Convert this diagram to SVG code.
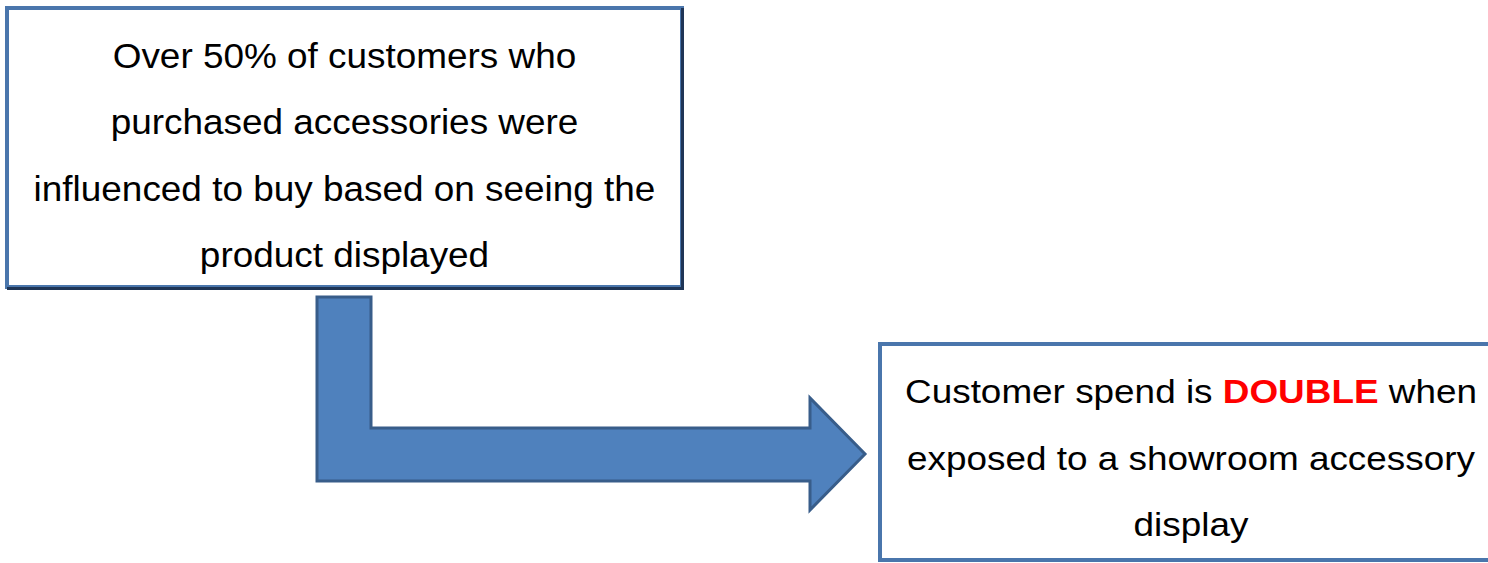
<svg xmlns="http://www.w3.org/2000/svg" width="1488" height="563" viewBox="0 0 1488 563">
<style>
.box{fill:#ffffff;stroke:#4a76ac;stroke-width:4}
.shadow{fill:none;stroke:#1f3556;stroke-width:3}
.t{font-family:"Liberation Sans",Arial,sans-serif;fill:#000000;text-anchor:middle}
.red{fill:#ff0000;font-weight:bold}
.arrow{fill:#4f81bd;stroke:#385d8a;stroke-width:3;stroke-linejoin:miter}
</style>
<rect width="1488" height="563" fill="#ffffff"/>
<g id="connectors">
<polygon class="arrow" points="317,297 371,297 371,428 810,428 810,398 865,454 810,510 810,481 317,481"/>
</g>
<g id="node-1">
<rect class="box" x="7" y="8" width="675" height="279"/>
<polyline class="shadow" points="682.5,8 682.5,288.5 7,288.5"/>
<g class="t" font-size="35.5" transform="translate(344.5,0) scale(1.04,1) translate(-344.5,0)">
<text x="344.5" y="68">Over 50% of customers who</text>
<text x="344.5" y="134.5">purchased accessories were</text>
<text x="344.5" y="201">influenced to buy based on seeing the</text>
<text x="344.5" y="267.5">product displayed</text>
</g>
</g>
<g id="node-2">
<rect class="box" x="880" y="344" width="620" height="216"/>
<g class="t" font-size="34" transform="translate(1191,0) scale(1.085,1) translate(-1191,0)">
<text x="1191" y="403">Customer spend is <tspan class="red">DOUBLE</tspan> when</text>
<text x="1191" y="470">exposed to a showroom accessory</text>
<text x="1191" y="536">display</text>
</g>
</g>
</svg>
